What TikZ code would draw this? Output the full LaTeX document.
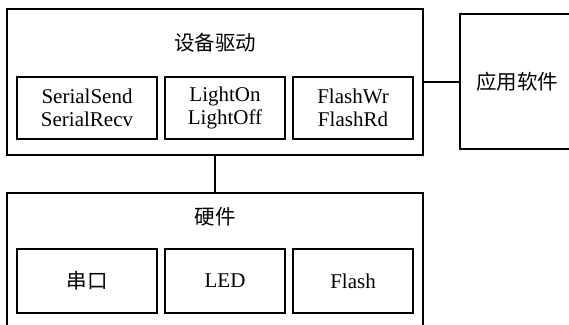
\documentclass[tikz,border=0pt]{standalone}
\usepackage{fontspec}
\setmainfont{Liberation Serif}
\newfontfamily\cjk{Noto Sans CJK SC}
\begin{document}
\begin{tikzpicture}[x=1pt,y=1pt,
  box/.style={draw, line width=1.1pt, rectangle, inner sep=0pt},
  lbl/.style={font=\fontsize{21}{23}\selectfont, align=center, inner sep=0pt},
  clbl/.style={font=\cjk\fontsize{20.5}{23}\selectfont, inner sep=0pt},
  conn/.style={line width=1.1pt}]
\useasboundingbox (0,0) rectangle (569,-324);
% driver group
\node[box, minimum width=416, minimum height=146] (drv) at (215,-82) {};
\node[clbl] (drvt) at (215,-43) {设备驱动};
\node[box, lbl, minimum width=140, minimum height=62] (d1) at (87,-108) {SerialSend\\SerialRecv};
\node[box, lbl, minimum width=120, minimum height=62] (d2) at (225,-108) {LightOn\\LightOff};
\node[box, lbl, minimum width=120, minimum height=62] (d3) at (353,-108) {FlashWr\\FlashRd};
% application
\node[box, minimum width=114, minimum height=135] (app) at (517,-81.5) {};
\node[clbl] (appt) at (517,-82) {应用软件};
% hardware group
\node[box, minimum width=416, minimum height=140] (hw) at (215,-263) {};
\node[clbl] (hwt) at (215,-217) {硬件};
\node[box, clbl, minimum width=140, minimum height=64] (h1) at (87,-281) {串口};
\node[box, lbl, minimum width=120, minimum height=64] (h2) at (225,-281) {LED};
\node[box, lbl, minimum width=120, minimum height=64] (h3) at (353,-281) {Flash};
% connectors
\draw[conn] (drv.east) -- (drv.east -| app.west);
\draw[conn] (drv.south) -- (hw.north);
\end{tikzpicture}
\end{document}
